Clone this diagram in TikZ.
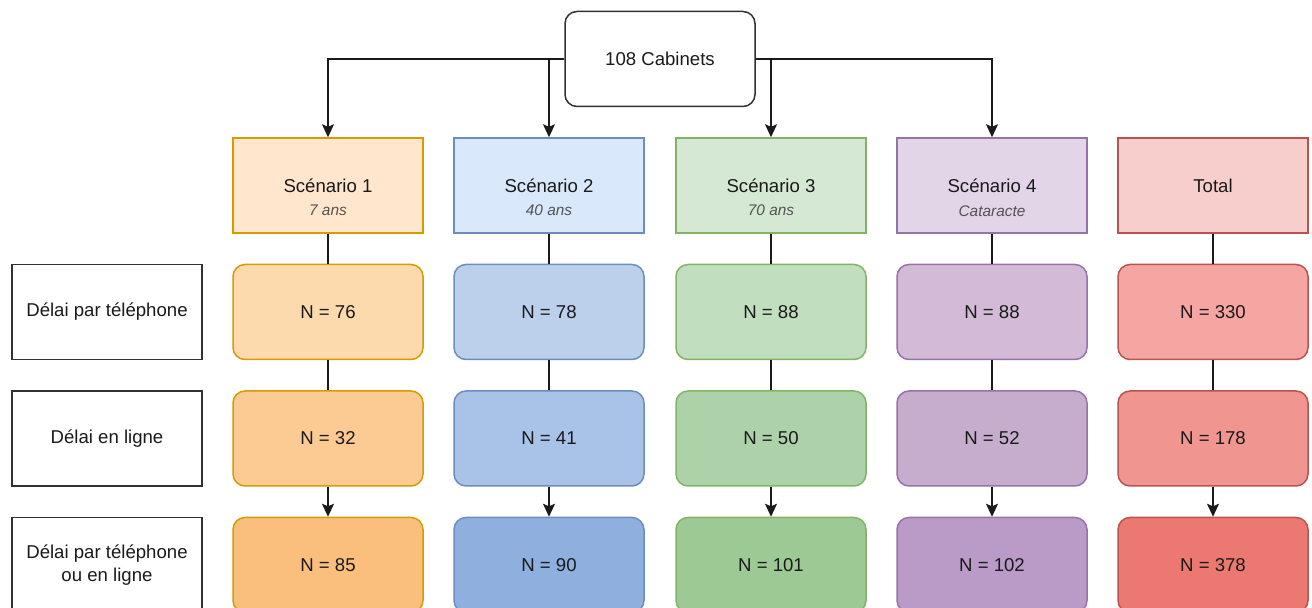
\documentclass[tikz,border=0pt]{standalone}
\usepackage{fontspec}
\setmainfont{Liberation Sans}
\usetikzlibrary{arrows.meta}

% scenario colours
\definecolor{orS}{HTML}{D79B00}
\definecolor{orH}{HTML}{FFE6CC}
\definecolor{orA}{HTML}{FDD9AE}
\definecolor{orB}{HTML}{FCCB93}
\definecolor{orC}{HTML}{FABF7C}
\definecolor{blS}{HTML}{6C8EBF}
\definecolor{blH}{HTML}{DAE8FC}
\definecolor{blA}{HTML}{BCD0EC}
\definecolor{blB}{HTML}{A8C3E7}
\definecolor{blC}{HTML}{8FB0DE}
\definecolor{grS}{HTML}{82B366}
\definecolor{grH}{HTML}{D5E8D4}
\definecolor{grA}{HTML}{C1DEBF}
\definecolor{grB}{HTML}{ADD2AA}
\definecolor{grC}{HTML}{9DC995}
\definecolor{puS}{HTML}{9673A6}
\definecolor{puH}{HTML}{E1D5E7}
\definecolor{puA}{HTML}{D3BBD8}
\definecolor{puB}{HTML}{C6ADCE}
\definecolor{puC}{HTML}{BA9BC7}
\definecolor{rdS}{HTML}{B85450}
\definecolor{rdH}{HTML}{F8CECC}
\definecolor{rdA}{HTML}{F5A6A2}
\definecolor{rdB}{HTML}{F19590}
\definecolor{rdC}{HTML}{EC7872}
\definecolor{ink}{HTML}{1A1A1A}

\tikzset{
  box/.style={draw=ink!90, line width=0.75pt, minimum width=95pt,
    minimum height=47.5pt, inner sep=0pt, align=center, text=ink,
    font=\fontsize{9.3}{11.5}\selectfont},
  rowlabel/.style={box},
  hdr/.style={box},
  cell/.style={box, rounded corners=6pt},
  subtxt/.style={font=\fontsize{7.7}{9}\selectfont\itshape, text=ink!75},
  link/.style={line width=0.75pt, draw=ink},
  arr/.style={link, -{Stealth[length=6.5pt, width=6pt, inset=1.3pt]}}
}

\begin{document}
\begin{tikzpicture}[x=0.5pt, y=-0.5pt]
  \useasboundingbox (0,0) rectangle (1312,608);
  \clip (0,0) rectangle (1312,608);

  \node[cell] (top) at (660,59) {108 Cabinets};

  % headers
  \node[hdr, fill=orH, draw=orS] (h1) at (328,185.5) {Scénario 1};
  \node[hdr, fill=blH, draw=blS] (h2) at (549,185.5) {Scénario 2};
  \node[hdr, fill=grH, draw=grS] (h3) at (771,185.5) {Scénario 3};
  \node[hdr, fill=puH, draw=puS] (h4) at (992,185.5) {Scénario 4};
  \node[hdr, fill=rdH, draw=rdS] (h5) at (1213,185.5) {Total};
  \node[subtxt] (s1) at (328,210) {7 ans};
  \node[subtxt] (s2) at (549,210) {40 ans};
  \node[subtxt] (s3) at (771,210) {70 ans};
  \node[subtxt] (s4) at (992,211) {Cataracte};

  % row labels
  \node[rowlabel] (l1) at (107,312) {Délai par téléphone};
  \node[rowlabel] (l2) at (107,438.5) {Délai en ligne};
  \node[rowlabel] (l3) at (107,565) {Délai par téléphone\\ou en ligne};

  % first row
  \node[cell, fill=orA, draw=orS] (a1) at (328,312) {N = 76};
  \node[cell, fill=blA, draw=blS] (a2) at (549,312) {N = 78};
  \node[cell, fill=grA, draw=grS] (a3) at (771,312) {N = 88};
  \node[cell, fill=puA, draw=puS] (a4) at (992,312) {N = 88};
  \node[cell, fill=rdA, draw=rdS] (a5) at (1213,312) {N = 330};

  % second row
  \node[cell, fill=orB, draw=orS] (b1) at (328,438.5) {N = 32};
  \node[cell, fill=blB, draw=blS] (b2) at (549,438.5) {N = 41};
  \node[cell, fill=grB, draw=grS] (b3) at (771,438.5) {N = 50};
  \node[cell, fill=puB, draw=puS] (b4) at (992,438.5) {N = 52};
  \node[cell, fill=rdB, draw=rdS] (b5) at (1213,438.5) {N = 178};

  % third row
  \node[cell, fill=orC, draw=orS] (c1) at (328,565) {N = 85};
  \node[cell, fill=blC, draw=blS] (c2) at (549,565) {N = 90};
  \node[cell, fill=grC, draw=grS] (c3) at (771,565) {N = 101};
  \node[cell, fill=puC, draw=puS] (c4) at (992,565) {N = 102};
  \node[cell, fill=rdC, draw=rdS] (c5) at (1213,565) {N = 378};

  % from the cabinets
  \draw[arr] (top.west) -| (h1.north);
  \draw[arr] (top.west) -| (h2.north);
  \draw[arr] (top.east) -| (h3.north);
  \draw[arr] (top.east) -| (h4.north);

  % down each column
  \foreach \c in {1,...,5} {
    \draw[link] (h\c.south) -- (a\c.north);
    \draw[link] (a\c.south) -- (b\c.north);
    \draw[arr] (b\c.south) -- (c\c.north);
  }
\end{tikzpicture}
\end{document}
